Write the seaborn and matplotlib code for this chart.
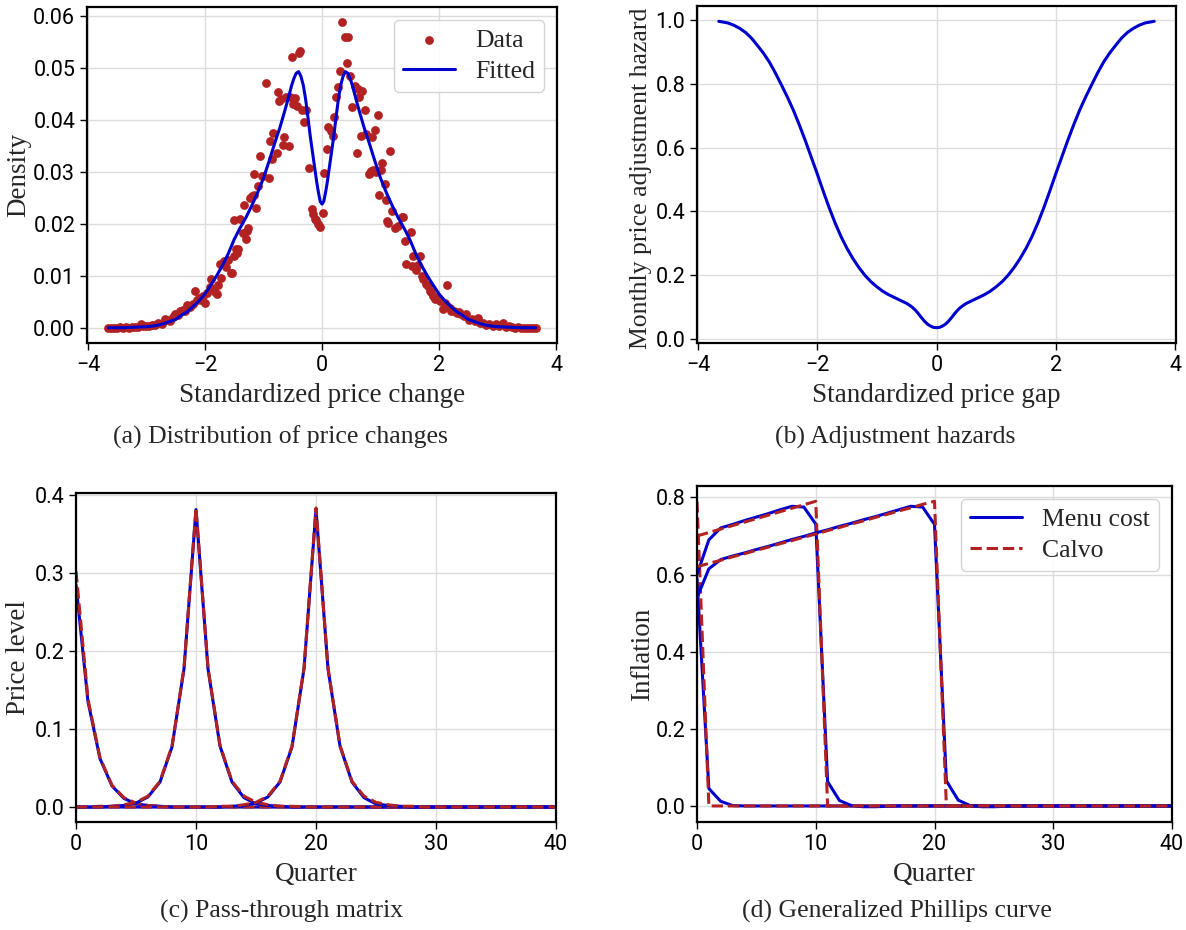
import matplotlib
matplotlib.use("Agg")
import matplotlib.pyplot as plt
import seaborn as sns

# (a) distribution of price changes: observed points and fitted density
data_x = [-3.65, -3.60, -3.55, -3.50, -3.45, -3.40, -3.35, -3.30, -3.25, -3.20, -3.15, -3.10,
          -3.05, -3.00, -2.96, -2.90, -2.85, -2.80, -2.74, -2.68, -2.64, -2.60, -2.55, -2.51,
          -2.46, -2.42, -2.38, -2.34, -2.31, -2.25, -2.21, -2.17, -2.14, -2.10, -2.06, -2.03,
          -2.00, -1.96, -1.92, -1.89, -1.86, -1.83, -1.80, -1.77, -1.74, -1.72, -1.68, -1.64,
          -1.60, -1.56, -1.54, -1.51, -1.50, -1.47, -1.45, -1.43, -1.40, -1.35, -1.33, -1.30,
          -1.28, -1.26, -1.23, -1.20, -1.17, -1.16, -1.12, -1.10, -1.06, -1.03, -1.00, -0.95,
          -0.91, -0.89, -0.86, -0.83, -0.77, -0.76, -0.73, -0.70, -0.67, -0.65, -0.61, -0.57,
          -0.55, -0.52, -0.49, -0.46, -0.43, -0.40, -0.37, -0.35, -0.30, -0.27, -0.22, -0.17,
          -0.15, -0.12, -0.10, -0.06, -0.03, 0.01, 0.04, 0.08, 0.11, 0.15, 0.18, 0.21,
          0.24, 0.28, 0.31, 0.35, 0.39, 0.42, 0.45, 0.48, 0.52, 0.56, 0.59, 0.62,
          0.64, 0.66, 0.69, 0.73, 0.76, 0.80, 0.82, 0.84, 0.85, 0.87, 0.90, 0.93,
          0.96, 0.98, 1.01, 1.03, 1.07, 1.09, 1.11, 1.13, 1.16, 1.20, 1.24, 1.30,
          1.36, 1.39, 1.41, 1.44, 1.52, 1.53, 1.56, 1.60, 1.64, 1.67, 1.70, 1.73,
          1.77, 1.81, 1.84, 1.87, 1.90, 1.93, 1.97, 2.01, 2.06, 2.10, 2.13, 2.14,
          2.18, 2.21, 2.26, 2.30, 2.34, 2.38, 2.42, 2.46, 2.52, 2.57, 2.62, 2.66,
          2.70, 2.75, 2.80, 2.86, 2.92, 2.98, 3.03, 3.09, 3.14, 3.20, 3.25, 3.30,
          3.35, 3.40, 3.45, 3.50, 3.55, 3.60, 3.65]
data_y = [0.0000, 0.0000, 0.0000, 0.0000, 0.0001, 0.0000, 0.0001, 0.0000, 0.0002, 0.0001, 0.0002, 0.0008,
          0.0003, 0.0004, 0.0003, 0.0005, 0.0006, 0.0009, 0.0008, 0.0017, 0.0014, 0.0012, 0.0020, 0.0026,
          0.0024, 0.0032, 0.0035, 0.0033, 0.0043, 0.0040, 0.0046, 0.0070, 0.0054, 0.0058, 0.0054, 0.0061,
          0.0048, 0.0066, 0.0078, 0.0093, 0.0074, 0.0069, 0.0064, 0.0082, 0.0122, 0.0096, 0.0128, 0.0116,
          0.0131, 0.0106, 0.0106, 0.0138, 0.0207, 0.0151, 0.0144, 0.0151, 0.0210, 0.0183, 0.0237, 0.0170,
          0.0186, 0.0192, 0.0250, 0.0253, 0.0256, 0.0295, 0.0230, 0.0272, 0.0330, 0.0293, 0.0292, 0.0472,
          0.0288, 0.0359, 0.0325, 0.0374, 0.0337, 0.0453, 0.0436, 0.0440, 0.0351, 0.0367, 0.0445, 0.0349,
          0.0444, 0.0521, 0.0431, 0.0442, 0.0426, 0.0529, 0.0532, 0.0420, 0.0396, 0.0419, 0.0308, 0.0228,
          0.0218, 0.0210, 0.0208, 0.0200, 0.0194, 0.0220, 0.0298, 0.0344, 0.0386, 0.0378, 0.0370, 0.0406,
          0.0444, 0.0463, 0.0494, 0.0588, 0.0559, 0.0510, 0.0559, 0.0484, 0.0425, 0.0466, 0.0337, 0.0460,
          0.0444, 0.0370, 0.0455, 0.0419, 0.0372, 0.0295, 0.0298, 0.0301, 0.0368, 0.0304, 0.0380, 0.0300,
          0.0410, 0.0256, 0.0304, 0.0317, 0.0276, 0.0245, 0.0205, 0.0202, 0.0340, 0.0224, 0.0192, 0.0196,
          0.0214, 0.0214, 0.0166, 0.0122, 0.0185, 0.0119, 0.0138, 0.0112, 0.0120, 0.0138, 0.0100, 0.0093,
          0.0085, 0.0080, 0.0071, 0.0068, 0.0061, 0.0055, 0.0058, 0.0051, 0.0036, 0.0047, 0.0042, 0.0083,
          0.0038, 0.0032, 0.0033, 0.0028, 0.0030, 0.0026, 0.0022, 0.0026, 0.0015, 0.0017, 0.0013, 0.0019,
          0.0010, 0.0010, 0.0006, 0.0007, 0.0004, 0.0007, 0.0003, 0.0009, 0.0002, 0.0003, 0.0001, 0.0000,
          0.0001, 0.0000, 0.0000, 0.0000, 0.0000, 0.0000, 0.0000]

fit_x = [-3.65, -3.4, -3.2, -3.0, -2.9, -2.8, -2.7, -2.6, -2.5, -2.4, -2.3, -2.2, -2.1, -2.0,
         -1.9, -1.8, -1.7, -1.6, -1.5, -1.4, -1.3, -1.2, -1.1, -1.0, -0.9, -0.8, -0.72, -0.65,
         -0.58, -0.52, -0.48, -0.44, -0.40, -0.36, -0.32, -0.28, -0.24, -0.20, -0.16, -0.12,
         -0.09, -0.06, -0.03, 0.0, 0.03, 0.06, 0.09, 0.12, 0.16, 0.20, 0.24, 0.28, 0.32, 0.36,
         0.40, 0.44, 0.48, 0.52, 0.58, 0.65, 0.72, 0.8, 0.9, 1.0, 1.1, 1.2, 1.3, 1.4, 1.5, 1.6,
         1.7, 1.8, 1.9, 2.0, 2.1, 2.2, 2.3, 2.4, 2.5, 2.6, 2.7, 2.8, 2.9, 3.0, 3.2, 3.4, 3.65]
fit_y = [0.0000, 0.0000, 0.0001, 0.0002, 0.0003, 0.0005, 0.0008, 0.0012, 0.0016, 0.0024, 0.0031, 0.0041, 0.0052, 0.0065,
         0.0082, 0.0100, 0.0120, 0.0143, 0.0170, 0.0192, 0.0212, 0.0235, 0.0260, 0.0288, 0.0322, 0.0358, 0.0385, 0.0412,
         0.0440, 0.0466, 0.0480, 0.0490, 0.0493, 0.0484, 0.0467, 0.0440, 0.0405, 0.0368, 0.0336, 0.0304,
         0.0280, 0.0260, 0.0243, 0.0238, 0.0243, 0.0260, 0.0280, 0.0304, 0.0336, 0.0368, 0.0405, 0.0440, 0.0467, 0.0484,
         0.0493, 0.0490, 0.0480, 0.0466, 0.0440, 0.0412, 0.0385, 0.0358, 0.0322, 0.0288, 0.0260, 0.0235, 0.0212, 0.0192, 0.0170, 0.0143,
         0.0120, 0.0100, 0.0082, 0.0065, 0.0052, 0.0041, 0.0031, 0.0024, 0.0016, 0.0012, 0.0008, 0.0005, 0.0003, 0.0002, 0.0001, 0.0000, 0.0000]

# (b) adjustment hazard against the price gap
gap_x = [-3.65, -3.5, -3.4, -3.3, -3.2, -3.1, -3.0, -2.9, -2.8, -2.7, -2.6, -2.5, -2.4, -2.3,
         -2.2, -2.1, -2.0, -1.9, -1.8, -1.7, -1.6, -1.5, -1.4, -1.3, -1.2, -1.1, -1.0, -0.9,
         -0.8, -0.7, -0.6, -0.5, -0.45, -0.4, -0.35, -0.3, -0.25, -0.2, -0.15, -0.1, -0.05, 0.0,
         0.05, 0.1, 0.15, 0.2, 0.25, 0.3, 0.35, 0.4, 0.45, 0.5, 0.6, 0.7, 0.8, 0.9,
         1.0, 1.1, 1.2, 1.3, 1.4, 1.5, 1.6, 1.7, 1.8, 1.9, 2.0, 2.1, 2.2, 2.3,
         2.4, 2.5, 2.6, 2.7, 2.8, 2.9, 3.0, 3.1, 3.2, 3.3, 3.4, 3.5, 3.65]
hazard = [0.995, 0.990, 0.983, 0.973, 0.960, 0.942, 0.919, 0.895, 0.867, 0.833, 0.796, 0.758, 0.717, 0.671,
          0.622, 0.570, 0.518, 0.464, 0.412, 0.364, 0.321, 0.284, 0.252, 0.224, 0.200, 0.180, 0.164, 0.150,
          0.139, 0.130, 0.121, 0.112, 0.106, 0.099, 0.090, 0.079, 0.067, 0.056, 0.047, 0.041, 0.037, 0.036,
          0.037, 0.041, 0.047, 0.056, 0.067, 0.079, 0.090, 0.099, 0.106, 0.112, 0.121, 0.130, 0.139, 0.150,
          0.164, 0.180, 0.200, 0.224, 0.252, 0.284, 0.321, 0.364, 0.412, 0.464, 0.518, 0.570, 0.622, 0.671,
          0.717, 0.758, 0.796, 0.833, 0.867, 0.895, 0.919, 0.942, 0.960, 0.973, 0.983, 0.990, 0.995]

# (c) pass-through matrix, columns for shocks at quarter 0, 10, 20
quarters = list(range(41))
pt_menu_0 = [0.285, 0.135, 0.062, 0.027, 0.011, 0.004, 0.002, 0.001, 0.0, 0.0, 0.0, 0.0, 0.0, 0.0,
             0.0, 0.0, 0.0, 0.0, 0.0, 0.0, 0.0, 0.0, 0.0, 0.0, 0.0, 0.0, 0.0, 0.0, 0.0, 0.0,
             0.0, 0.0, 0.0, 0.0, 0.0, 0.0, 0.0, 0.0, 0.0, 0.0, 0.0]
pt_calvo_0 = [0.302, 0.138, 0.063, 0.028, 0.012, 0.005, 0.002, 0.001, 0.0, 0.0, 0.0, 0.0, 0.0, 0.0,
              0.0, 0.0, 0.0, 0.0, 0.0, 0.0, 0.0, 0.0, 0.0, 0.0, 0.0, 0.0, 0.0, 0.0, 0.0, 0.0,
              0.0, 0.0, 0.0, 0.0, 0.0, 0.0, 0.0, 0.0, 0.0, 0.0, 0.0]
pt_menu_10 = [0.0, 0.0, 0.0, 0.001, 0.002, 0.005, 0.013, 0.032, 0.077, 0.177, 0.381, 0.177, 0.078, 0.032,
              0.012, 0.004, 0.002, 0.001, 0.0, 0.0, 0.0, 0.0, 0.0, 0.0, 0.0, 0.0, 0.0, 0.0, 0.0, 0.0,
              0.0, 0.0, 0.0, 0.0, 0.0, 0.0, 0.0, 0.0, 0.0, 0.0, 0.0]
pt_calvo_10 = [0.0, 0.0, 0.001, 0.001, 0.003, 0.006, 0.014, 0.033, 0.078, 0.178, 0.383, 0.178, 0.079, 0.033,
               0.014, 0.006, 0.003, 0.001, 0.001, 0.0, 0.0, 0.0, 0.0, 0.0, 0.0, 0.0, 0.0, 0.0, 0.0, 0.0,
               0.0, 0.0, 0.0, 0.0, 0.0, 0.0, 0.0, 0.0, 0.0, 0.0, 0.0]
pt_menu_20 = [0.0, 0.0, 0.0, 0.0, 0.0, 0.0, 0.0, 0.0, 0.0, 0.0, 0.0, 0.0, 0.0, 0.001,
              0.002, 0.005, 0.013, 0.032, 0.077, 0.177, 0.381, 0.177, 0.078, 0.032, 0.012, 0.004, 0.002, 0.001, 0.0, 0.0,
              0.0, 0.0, 0.0, 0.0, 0.0, 0.0, 0.0, 0.0, 0.0, 0.0, 0.0]
pt_calvo_20 = [0.0, 0.0, 0.0, 0.0, 0.0, 0.0, 0.0, 0.0, 0.0, 0.0, 0.0, 0.0, 0.001, 0.001,
               0.003, 0.006, 0.014, 0.033, 0.078, 0.178, 0.383, 0.178, 0.079, 0.033, 0.014, 0.006, 0.003, 0.001, 0.001, 0.0,
               0.0, 0.0, 0.0, 0.0, 0.0, 0.0, 0.0, 0.0, 0.0, 0.0, 0.0]

# (d) generalized Phillips curve, columns for shocks at quarter 0, 10, 20
pc_menu_0 = [0.59, 0.045, 0.012, 0.001, 0.0, 0.0, 0.0, 0.0, 0.0, 0.0, 0.0, 0.0, 0.0, 0.0,
             0.0, 0.0, 0.0, 0.0, 0.0, 0.0, 0.0, 0.0, 0.0, 0.0, 0.0, 0.0, 0.0, 0.0, 0.0, 0.0,
             0.0, 0.0, 0.0, 0.0, 0.0, 0.0, 0.0, 0.0, 0.0, 0.0, 0.0]
pc_calvo_0 = [0.79, 0.0, 0.0, 0.0, 0.0, 0.0, 0.0, 0.0, 0.0, 0.0, 0.0, 0.0, 0.0, 0.0,
              0.0, 0.0, 0.0, 0.0, 0.0, 0.0, 0.0, 0.0, 0.0, 0.0, 0.0, 0.0, 0.0, 0.0, 0.0, 0.0,
              0.0, 0.0, 0.0, 0.0, 0.0, 0.0, 0.0, 0.0, 0.0, 0.0, 0.0]
pc_menu_10 = [0.60, 0.69, 0.721, 0.730, 0.740, 0.749, 0.758, 0.768, 0.777, 0.775, 0.731, 0.063, 0.014, 0.001,
              -0.002, -0.002, -0.001, 0.0, 0.0, 0.0, 0.0, 0.0, 0.0, 0.0, 0.0, 0.0, 0.0, 0.0, 0.0, 0.0,
              0.0, 0.0, 0.0, 0.0, 0.0, 0.0, 0.0, 0.0, 0.0, 0.0, 0.0]
pc_calvo_10 = [0.700, 0.709, 0.718, 0.727, 0.736, 0.745, 0.754, 0.763, 0.772, 0.781, 0.790, 0.0, 0.0, 0.0,
               0.0, 0.0, 0.0, 0.0, 0.0, 0.0, 0.0, 0.0, 0.0, 0.0, 0.0, 0.0, 0.0, 0.0, 0.0, 0.0,
               0.0, 0.0, 0.0, 0.0, 0.0, 0.0, 0.0, 0.0, 0.0, 0.0, 0.0]
pc_menu_20 = [0.54, 0.615, 0.639, 0.648, 0.656, 0.665, 0.673, 0.682, 0.691, 0.699, 0.708, 0.716, 0.725, 0.733,
              0.742, 0.750, 0.759, 0.768, 0.777, 0.775, 0.730, 0.065, 0.015, 0.001, -0.002, -0.002, -0.001, 0.0, 0.0, 0.0,
              0.0, 0.0, 0.0, 0.0, 0.0, 0.0, 0.0, 0.0, 0.0, 0.0, 0.0]
pc_calvo_20 = [0.620, 0.629, 0.637, 0.646, 0.654, 0.663, 0.671, 0.680, 0.688, 0.697, 0.705, 0.714, 0.722, 0.731,
               0.739, 0.748, 0.756, 0.765, 0.773, 0.782, 0.790, 0.0, 0.0, 0.0, 0.0, 0.0, 0.0, 0.0, 0.0, 0.0,
               0.0, 0.0, 0.0, 0.0, 0.0, 0.0, 0.0, 0.0, 0.0, 0.0, 0.0]

BLUE = "#0000cc"
RED = "#b22222"
SERIF = "Liberation Serif"

sns.set_theme(style="whitegrid")
plt.rcParams.update({
    "axes.edgecolor": "black",
    "axes.linewidth": 1.6,
    "grid.color": "#dcdcdc",
    "grid.linewidth": 1.0,
    "xtick.bottom": True,
    "ytick.left": True,
    "xtick.major.size": 5,
    "ytick.major.size": 5,
    "xtick.major.width": 1.0,
    "ytick.major.width": 1.0,
    "xtick.color": "black",
    "ytick.color": "black",
    "xtick.labelsize": 15.5,
    "ytick.labelsize": 15.5,
})
plt.rcParams["font.family"] = ["Roboto", "DejaVu Sans"]

W, H = 1186, 930
fig = plt.figure(figsize=(W / 100, H / 100), dpi=100)


def box(left, top, right, bottom):
    return [left / W, 1 - bottom / H, (right - left) / W, (bottom - top) / H]


ax_a = fig.add_axes(box(87, 7, 557, 343))
ax_b = fig.add_axes(box(697, 6, 1176, 343))
ax_c = fig.add_axes(box(76, 493, 556, 822))
ax_d = fig.add_axes(box(697, 486, 1172, 822))

label_kw = dict(fontfamily=SERIF, fontsize=19.5)
legend_prop = {"family": SERIF, "size": 18.5}

# (a)
sns.scatterplot(x=data_x, y=data_y, ax=ax_a, color=RED, s=40, linewidth=0, label="Data", zorder=2)
sns.lineplot(x=fit_x, y=fit_y, ax=ax_a, color=BLUE, lw=2.2, label="Fitted", zorder=3, estimator=None)
ax_a.set_xlabel("Standardized price change", **label_kw)
ax_a.set_ylabel("Density", **label_kw)
ax_a.set_xticks([-4, -2, 0, 2, 4])
ax_a.legend(loc="upper right", prop=legend_prop, frameon=True, framealpha=0.9,
            edgecolor="#d0d0d0", handlelength=2.0, borderpad=0.35, labelspacing=0.3)

# (b)
sns.lineplot(x=gap_x, y=hazard, ax=ax_b, color=BLUE, lw=2.2, estimator=None)
ax_b.set_xticks([-4, -2, 0, 2, 4])
ax_b.set_xlabel("Standardized price gap", **label_kw)
ax_b.set_ylabel("Monthly price adjustment hazard", fontfamily=SERIF, fontsize=18.5)

# (c)
for menu, calvo in [(pt_menu_0, pt_calvo_0), (pt_menu_10, pt_calvo_10), (pt_menu_20, pt_calvo_20)]:
    sns.lineplot(x=quarters, y=menu, ax=ax_c, color=BLUE, lw=2.2, estimator=None)
    sns.lineplot(x=quarters, y=calvo, ax=ax_c, color=RED, lw=2.2, linestyle="--", estimator=None)
ax_c.set_xlim(0, 40)
ax_c.set_xlabel("Quarter", **label_kw)
ax_c.set_ylabel("Price level", **label_kw)

# (d)
series_d = [(pc_menu_0, pc_calvo_0), (pc_menu_10, pc_calvo_10), (pc_menu_20, pc_calvo_20)]
for i, (menu, calvo) in enumerate(series_d):
    sns.lineplot(x=quarters, y=menu, ax=ax_d, color=BLUE, lw=2.2, estimator=None,
                 label="Menu cost" if i == 0 else None)
    sns.lineplot(x=quarters, y=calvo, ax=ax_d, color=RED, lw=2.2, linestyle="--", estimator=None,
                 label="Calvo" if i == 0 else None)
ax_d.set_xlim(0, 40)
ax_d.set_xlabel("Quarter", **label_kw)
ax_d.set_ylabel("Inflation", **label_kw)
ax_d.legend(loc="upper right", prop=legend_prop, frameon=True, framealpha=0.9,
            edgecolor="#d0d0d0", handlelength=2.0, borderpad=0.35, labelspacing=0.3)

ylabel_x = {ax_a: (31 - 87) / 470, ax_b: (652 - 697) / 479,
            ax_c: (31 - 76) / 480, ax_d: (655 - 697) / 475}
for ax in (ax_a, ax_b, ax_c, ax_d):
    ax.grid(True)
    ax.xaxis.labelpad = 5
    ax.yaxis.set_label_coords(ylabel_x[ax], 0.5)
    for side in ("top", "right", "left", "bottom"):
        ax.spines[side].set_visible(True)
        ax.spines[side].set_color("black")
# the long hazard label sits a touch lower so it stays inside the figure
ax_b.yaxis.set_label_coords(ylabel_x[ax_b], 0.49)

caption_kw = dict(fontfamily=SERIF, fontsize=18.5, ha="center", va="center")
fig.text(280 / W, 1 - 437 / H, "(a) Distribution of price changes", **caption_kw)
fig.text(895 / W, 1 - 437 / H, "(b) Adjustment hazards", **caption_kw)
fig.text(282 / W, 1 - 911 / H, "(c) Pass-through matrix", **caption_kw)
fig.text(897 / W, 1 - 911 / H, "(d) Generalized Phillips curve", **caption_kw)

fig.savefig("out.png", dpi=100)
